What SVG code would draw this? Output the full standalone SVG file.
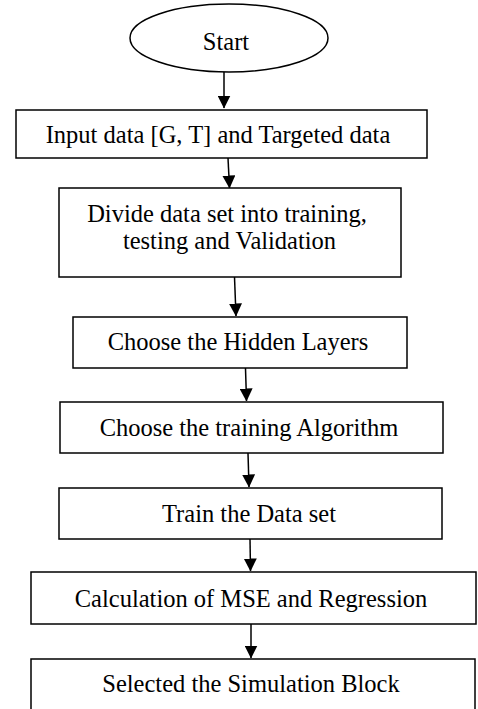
<svg xmlns="http://www.w3.org/2000/svg" width="478" height="709" viewBox="0 0 478 709">
<style>
.box{fill:#fff;stroke:#000;stroke-width:1.5}
.lbl{font-family:"Liberation Serif","Times New Roman",serif;font-size:24.5px;fill:#000;text-anchor:middle}
.conn{stroke:#000;stroke-width:1.5;fill:none}
</style>
<defs>
<marker id="ah" markerWidth="13" markerHeight="13" refX="12.5" refY="6.5" orient="auto" markerUnits="userSpaceOnUse" viewBox="0 0 13 13">
<path d="M0,0 L13,6.5 L0,13 Z" fill="#000"/>
</marker>
</defs>
<rect width="478" height="709" fill="#fff"/>
<g id="connectors">
<line class="conn" x1="224" y1="72" x2="224" y2="108" marker-end="url(#ah)"/>
<line class="conn" x1="228" y1="158" x2="229.5" y2="188" marker-end="url(#ah)"/>
<line class="conn" x1="234.5" y1="277" x2="236" y2="316" marker-end="url(#ah)"/>
<line class="conn" x1="245.5" y1="368" x2="246.5" y2="401" marker-end="url(#ah)"/>
<line class="conn" x1="248" y1="453" x2="249" y2="487" marker-end="url(#ah)"/>
<line class="conn" x1="250" y1="539" x2="250.5" y2="571" marker-end="url(#ah)"/>
<line class="conn" x1="251" y1="624" x2="251" y2="658" marker-end="url(#ah)"/>
</g>
<g id="start">
<ellipse class="box" cx="229" cy="38" rx="99" ry="34"/>
<text class="lbl" x="226" y="50">Start</text>
</g>
<g id="input">
<rect class="box" x="16" y="110" width="411" height="48"/>
<text class="lbl" x="218" y="143">Input data [G, T] and Targeted data</text>
</g>
<g id="divide">
<rect class="box" x="59" y="188" width="342" height="89"/>
<text class="lbl" x="227" y="222">Divide data set into training,</text>
<text class="lbl" x="229.5" y="249">testing and Validation</text>
</g>
<g id="hidden">
<rect class="box" x="73" y="317" width="334" height="51"/>
<text class="lbl" x="238" y="350">Choose the Hidden Layers</text>
</g>
<g id="algorithm">
<rect class="box" x="60" y="402" width="383" height="51"/>
<text class="lbl" x="249" y="436">Choose the training Algorithm</text>
</g>
<g id="train">
<rect class="box" x="59" y="488" width="383" height="51"/>
<text class="lbl" x="249" y="522">Train the Data set</text>
</g>
<g id="mse">
<rect class="box" x="31" y="572" width="445" height="52"/>
<text class="lbl" x="251" y="607">Calculation of MSE and Regression</text>
</g>
<g id="simulation">
<rect class="box" x="31" y="659" width="444" height="70"/>
<text class="lbl" x="251" y="692">Selected the Simulation Block</text>
</g>
</svg>
